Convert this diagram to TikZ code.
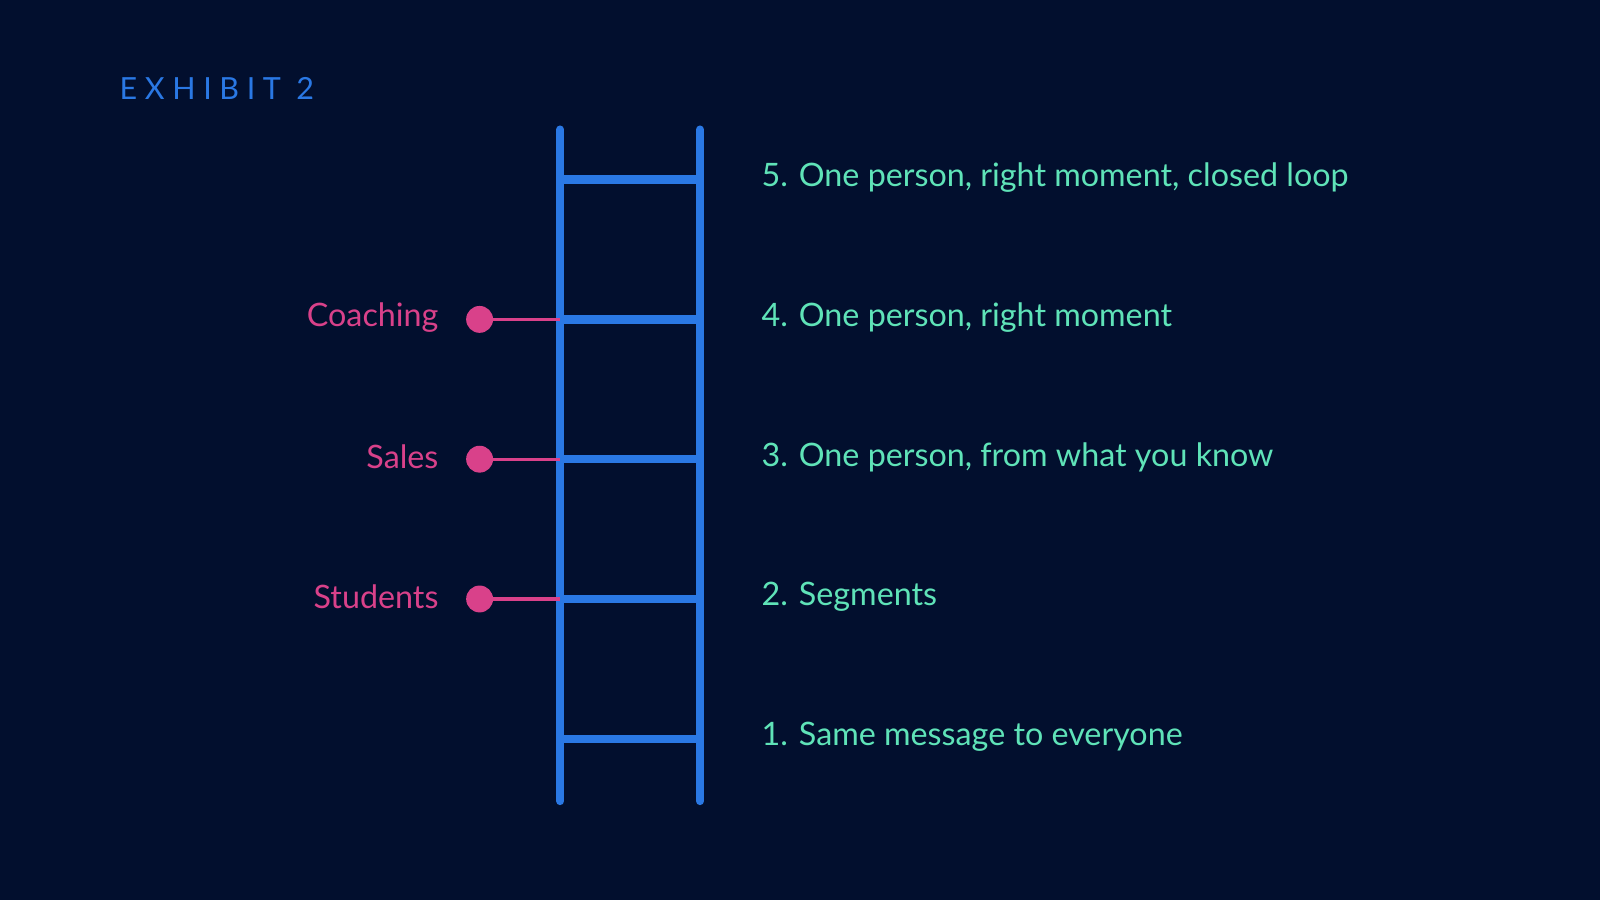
\documentclass[tikz,border=0pt]{standalone}
\usepackage{fontspec}
\setmainfont{Lato}
\definecolor{bgnavy}{HTML}{020F2E}
\definecolor{railblue}{HTML}{2A78E4}
\definecolor{stepgreen}{HTML}{5FE3B8}
\definecolor{grouppink}{HTML}{D9418A}
\tikzset{
  rail/.style={draw=railblue,line width=4.6pt,line cap=round},
  rung/.style={draw=railblue,line width=4.6pt},
  level/.style={anchor=west,text=stepgreen,font=\fontsize{18}{20}\selectfont,inner sep=0pt},
  group/.style={anchor=east,text=grouppink,font=\fontsize{18}{20}\selectfont,inner sep=0pt},
  dot/.style={circle,fill=grouppink,minimum size=15pt,inner sep=0pt},
  link/.style={draw=grouppink,line width=1.8pt}
}
\begin{document}
\begin{tikzpicture}[x=0.02cm,y=-0.02cm]
    \fill[bgnavy] (0,0) rectangle (1568,882);
    \useasboundingbox (0,0) rectangle (1568,882);
    \node[anchor=west,text=railblue,inner sep=0pt,font=\fontsize{17}{20}\selectfont\addfontfeature{LetterSpace=25}] (title) at (117,87) {EXHIBIT 2};
    % rails
    \coordinate (LT) at (549,127);
    \coordinate (LB) at (549,785);
    \coordinate (RT) at (686,127);
    \coordinate (RB) at (686,785);
    \draw[rail] (LT) -- (LB);
    \draw[rail] (RT) -- (RB);
    % rungs
    \foreach \i/\y in {5/176,4/313,3/450,2/587,1/724} {
        \coordinate (l\i) at (549,\y);
        \coordinate (r\i) at (686,\y);
        \draw[rung] (l\i) -- (r\i);
    }
    \node[level] (s5) at (746,174) {5. One person, right moment, closed loop};
    \node[level] (s4) at (746,311) {4. One person, right moment};
    \node[level] (s3) at (746,448) {3. One person, from what you know};
    \node[level] (s2) at (746,585) {2. Segments};
    \node[level] (s1) at (746,722) {1. Same message to everyone};
    % groups
    \node[dot] (d4) at (470,313) {};
    \node[dot] (d3) at (470,450) {};
    \node[dot] (d2) at (470,587) {};
    \draw[link] (d4) -- (l4);
    \draw[link] (d3) -- (l3);
    \draw[link] (d2) -- (l2);
    \node[group] (coaching) at (430,311) {Coaching};
    \node[group] (sales) at (430,448) {Sales};
    \node[group] (students) at (430,585) {Students};
\end{tikzpicture}
\end{document}
